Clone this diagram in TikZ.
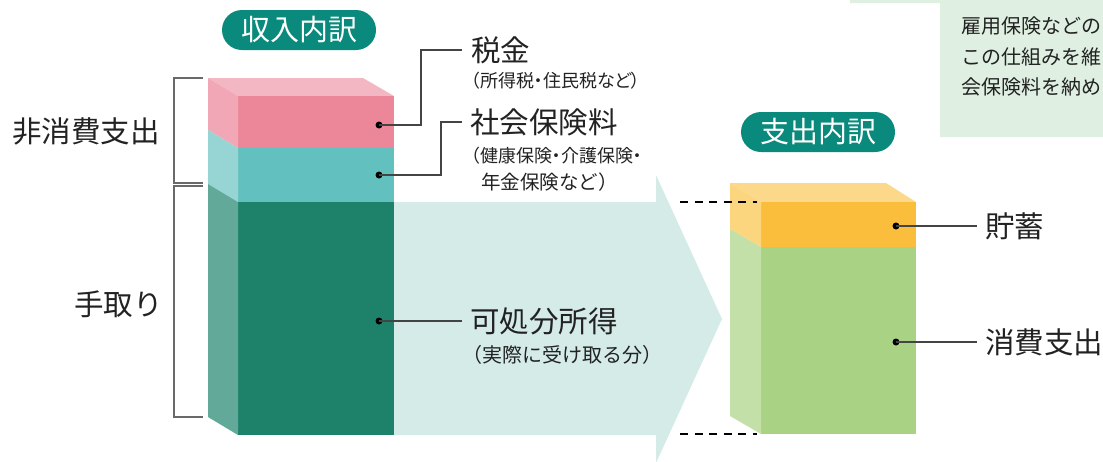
\documentclass[tikz,border=0pt]{standalone}
\usepackage{fontspec}
\newfontfamily\jp{Noto Sans CJK JP}
\newfontfamily\jpp[RawFeature=+palt]{Noto Sans CJK JP}
\definecolor{pinkTop}{HTML}{F3B7C3}
\definecolor{pinkFront}{HTML}{EC8799}
\definecolor{pinkSide}{HTML}{F2A7B6}
\definecolor{tealFront}{HTML}{62C1BE}
\definecolor{tealSide}{HTML}{97D5D4}
\definecolor{greenFront}{HTML}{1E826B}
\definecolor{greenSide}{HTML}{63A99A}
\definecolor{arrowc}{HTML}{D4EBE8}
\definecolor{orTop}{HTML}{FCD98A}
\definecolor{orFront}{HTML}{FABE3C}
\definecolor{orSide}{HTML}{FBD67E}
\definecolor{lgFront}{HTML}{AAD285}
\definecolor{lgSide}{HTML}{C3E0A9}
\definecolor{pillc}{HTML}{0A8A7C}
\definecolor{boxc}{HTML}{DFF0E2}
\definecolor{ink}{HTML}{222222}
\definecolor{leadc}{HTML}{444444}
\tikzset{
  big/.style={font=\jp\fontsize{29.5}{32}\selectfont, text=ink, inner ysep=0pt},
  small/.style={font=\jpp\fontsize{18}{20}\selectfont, text=ink, inner sep=0pt, anchor=west},
  smallw/.style={font=\jp\fontsize{19.5}{21}\selectfont, text=ink, inner sep=0pt, anchor=west},
  note/.style={font=\jp\fontsize{20}{22}\selectfont, text=ink, inner sep=0pt, anchor=west},
  pill/.style={fill=pillc, rounded corners=20pt, minimum width=154pt, minimum height=40pt,
    inner sep=0pt, text=white, font=\jp\fontsize{29}{30}\selectfont},
  dotnode/.style={circle, fill=black, inner sep=0pt, minimum size=7pt},
  lead/.style={draw=leadc, line width=1.3pt},
  brace/.style={draw=leadc!80, line width=1.3pt},
  dashline/.style={draw=black, line width=1.3pt, dash pattern=on 8pt off 6.5pt},
}
\begin{document}
\begin{tikzpicture}[x=1pt,y=-1pt]
\useasboundingbox (0,0) rectangle (1103,461);
% note box (top right)
\fill[boxc] (850,0) -- (1103,0) -- (1103,137) -- (940,137) -- (940,3) -- (850,3) -- cycle;
\begin{scope}
\clip (940,0) rectangle (1103,137);
\node[note] (n1) at (961,26) {雇用保険などの};
\node[note] (n2) at (961,57) {この仕組みを維};
\node[note] (n3) at (961,87) {会保険料を納め};
\end{scope}
% arrow
\fill[arrowc] (394,202) -- (656,202) -- (656,175) -- (722,319) -- (656,463) -- (656,435) -- (394,435) -- cycle;
% left bar
\fill[pinkTop] (208,78) -- (363,78) -- (394,96) -- (238,96) -- cycle;
\fill[pinkFront] (238,96) rectangle (394,148);
\fill[pinkSide] (208,78) -- (238,96) -- (238,148) -- (208,130) -- cycle;
\fill[tealFront] (238,148) rectangle (394,202);
\fill[tealSide] (208,130) -- (238,148) -- (238,202) -- (208,184) -- cycle;
\fill[greenFront] (238,202) rectangle (394,435);
\fill[greenSide] (208,184) -- (238,202) -- (238,435) -- (208,417) -- cycle;
% right bar
\fill[orTop] (730,183) -- (886,183) -- (916,202) -- (761,202) -- cycle;
\fill[orFront] (761,202) rectangle (916,247);
\fill[orSide] (730,183) -- (761,202) -- (761,247) -- (730,229) -- cycle;
\fill[lgFront] (761,247) rectangle (916,434);
\fill[lgSide] (730,229) -- (761,247) -- (761,434) -- (730,416) -- cycle;
% dashed guides
\coordinate (g1a) at (680,202); \coordinate (g1b) at (757,202);
\coordinate (g2a) at (680,434); \coordinate (g2b) at (757,434);
\draw[dashline] (g1a) -- (g1b);
\draw[dashline] (g2a) -- (g2b);
% brackets
\draw[brace] (203,78) -- (174,78) -- (174,183) -- (203,183);
\draw[brace] (203,186) -- (174,186) -- (174,417) -- (203,417);
% pills
\node[pill] (inc) at (299,30) {収入内訳};
\node[pill] (exp) at (818,132) {支出内訳};
% left labels
\node[big, anchor=west, inner xsep=0pt] (nonc) at (12,131) {非消費支出};
\node[big, anchor=west, inner xsep=0pt] (take) at (74,304) {手取り};
% dots
\node[dotnode] (dTax) at (379,125) {};
\node[dotnode] (dSoc) at (379,175) {};
\node[dotnode] (dDisp) at (379,321) {};
\node[dotnode] (dSav) at (896,226) {};
\node[dotnode] (dCons) at (896,342) {};
% labels
\node[big, anchor=west, inner xsep=9pt] (tax) at (462,50) {税金};
\node[small] (taxs) at (471,81) {（所得税・住民税など）};
\node[big, anchor=west, inner xsep=8pt] (soc) at (462,122) {社会保険料};
\node[small] (socs1) at (471,156) {（健康保険・介護保険・};
\node[smallw] (socs2) at (481,182) {年金保険など）};
\node[big, anchor=west, inner xsep=8pt] (disp) at (462,321) {可処分所得};
\node[smallw, font=\jp\fontsize{20}{22}\selectfont] (disps) at (462,355) {（実際に受け取る分）};
\node[big, anchor=west, inner xsep=8pt] (sav) at (977,226) {貯蓄};
\node[big, anchor=west, inner xsep=8pt] (cons) at (977,342) {消費支出};
% leaders
\coordinate (cTax) at (421,50);
\coordinate (cSoc) at (441,122);
\draw[lead] (dTax.center) -| (cTax) -- (tax.west);
\draw[lead] (dSoc.center) -| (cSoc) -- (soc.west);
\draw[lead] (dDisp.center) -- (disp.west);
\draw[lead] (dSav.center) -- (sav.west);
\draw[lead] (dCons.center) -- (cons.west);
\end{tikzpicture}
\end{document}
